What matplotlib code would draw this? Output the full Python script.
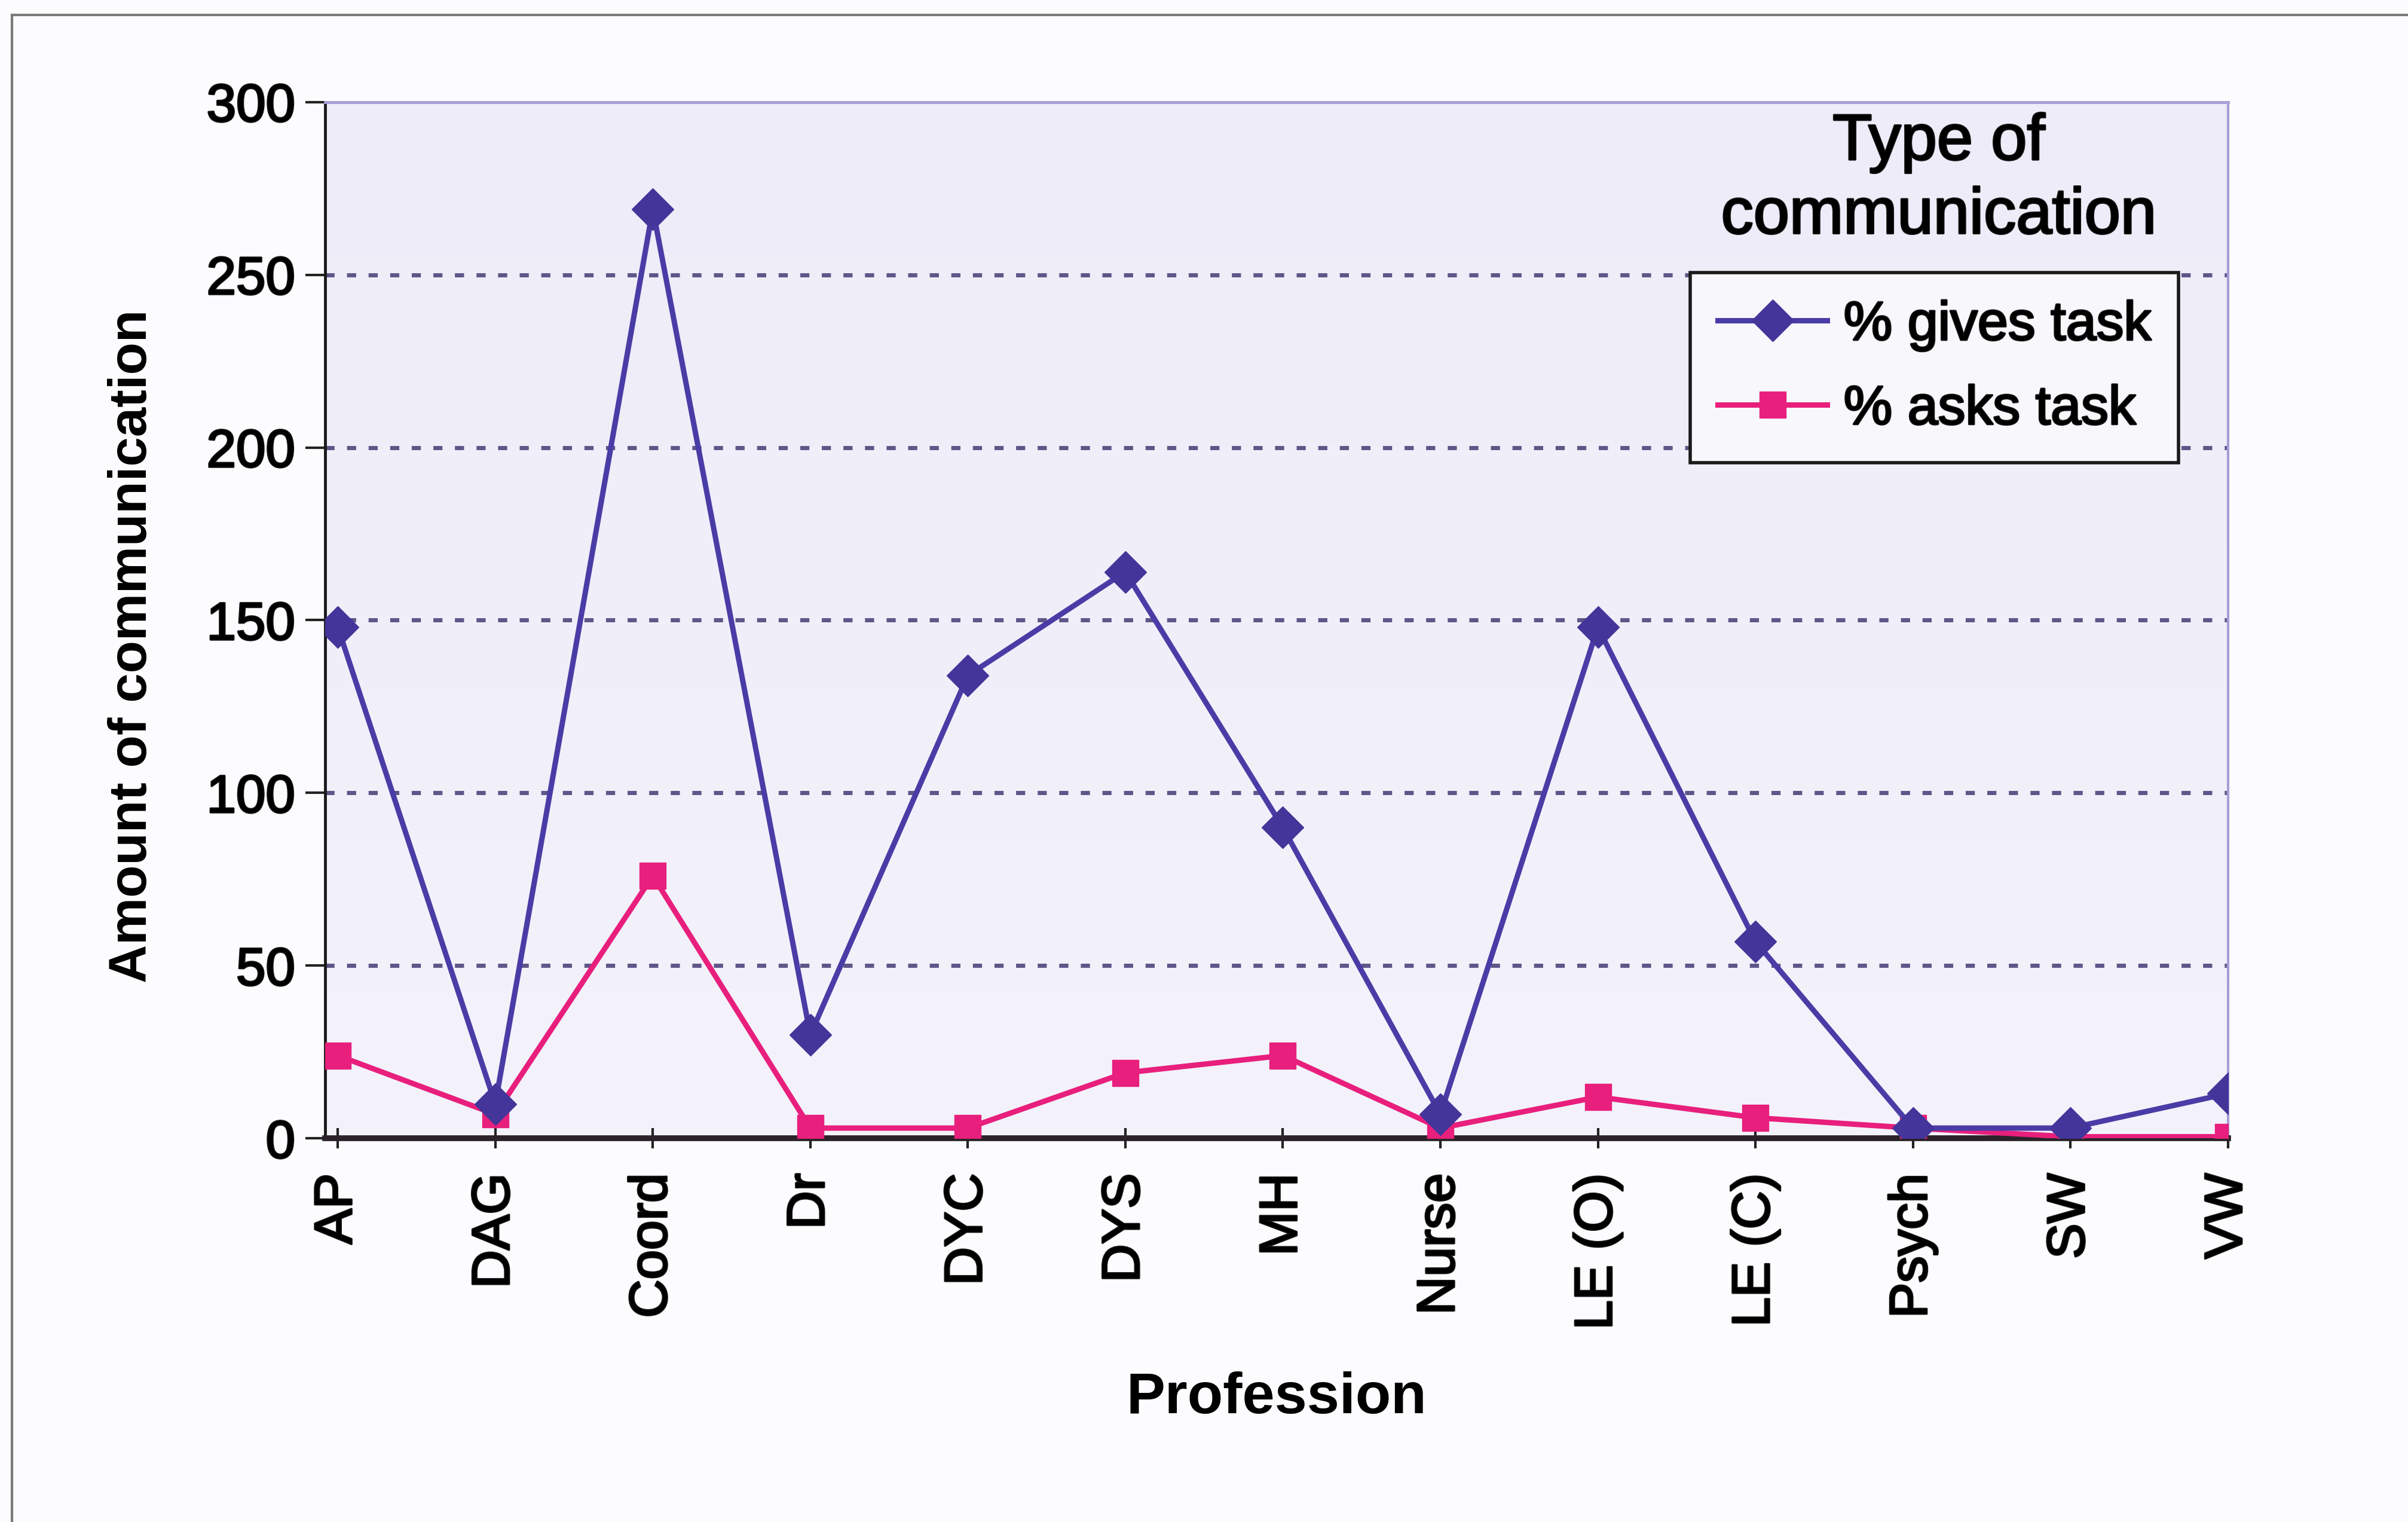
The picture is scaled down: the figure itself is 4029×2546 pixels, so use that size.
import numpy as np
import matplotlib.pyplot as plt
import matplotlib.patheffects as pe
from matplotlib.lines import Line2D
from matplotlib.colors import LinearSegmentedColormap

professions = ['AP', 'DAG', 'Coord', 'Dr', 'DYC', 'DYS', 'MH', 'Nurse',
               'LE (O)', 'LE (C)', 'Psych', 'SW', 'VW']
gives_task = [148, 10, 269, 30, 134, 164, 90, 7, 148, 57, 3, 3, 13]
asks_task = [24, 7, 76, 3, 3, 19, 24, 3, 12, 6, 3, 0.5, 0.5]
y_ticks = [0, 50, 100, 150, 200, 250, 300]

plt.rcParams['font.family'] = ['Liberation Sans', 'DejaVu Sans']
heavy = [pe.withStroke(linewidth=2.5, foreground='#151515')]

fig = plt.figure(figsize=(40.30, 25.46), dpi=100, facecolor='#FCFCFE')
ax = fig.add_axes([0.135, 0.252, 0.79, 0.681])

# soft lavender fill behind the plot area
bg = LinearSegmentedColormap.from_list('bg', ['#F4F3FB', '#EDECF8'])
ax.imshow(np.linspace(0, 1, 256).reshape(-1, 1), cmap=bg, aspect='auto',
          extent=[-0.08, 12.0, 0, 300], origin='lower', zorder=0)

x = np.arange(len(professions))
ax.plot(x, gives_task, color='#4A3CA6', linewidth=6.5, marker='D',
        markersize=36, markerfacecolor='#43359A', markeredgecolor='#43359A',
        label='% gives task', zorder=4)
ax.plot(x, asks_task, color='#E81F7C', linewidth=6.5, marker='s',
        markersize=32, markerfacecolor='#E81F7C', markeredgecolor='#E81F7C',
        label='% asks task', zorder=3)

ax.set_xlim(-0.08, 12.0)
ax.set_ylim(0, 300)
ax.set_yticks(y_ticks)
ax.set_xticks(x)
ax.set_xticklabels(professions, rotation=90, va='top', ha='center')
ax.tick_params(axis='both', labelsize=64, length=24, width=3, color='#222222')
ax.tick_params(axis='x', direction='inout', pad=30)
ax.tick_params(axis='y', direction='out', pad=12)
for lbl in ax.get_xticklabels() + ax.get_yticklabels():
    lbl.set_path_effects(heavy)

for y in y_ticks[1:-1]:
    ax.axhline(y, color='#5F5688', linewidth=5, linestyle=(0, (2.2, 3.0)), zorder=1)

ax.spines['left'].set_color('#1A1A1A')
ax.spines['left'].set_linewidth(3.5)
ax.spines['bottom'].set_color('#2A2228')
ax.spines['bottom'].set_linewidth(7)
ax.spines['top'].set_color('#A59FD6')
ax.spines['top'].set_linewidth(3.5)
ax.spines['right'].set_color('#A59FD6')
ax.spines['right'].set_linewidth(3)

ax.set_ylabel('Amount of communication', fontsize=64, fontweight='bold')
ax.yaxis.set_label_coords(-0.088, 0.475)
ax.set_xlabel('Profession', fontsize=70, fontweight='bold', labelpad=50)

leg = ax.legend(loc='upper left', bbox_to_anchor=(0.703, 0.862), fontsize=66,
                frameon=True, fancybox=False, edgecolor='#1A1A1A',
                facecolor='#F8F8FC', framealpha=1, handlelength=2.0,
                handletextpad=0.3, borderpad=0.5, labelspacing=0.6)
leg.get_frame().set_linewidth(4)
for t in leg.get_texts():
    t.set_path_effects(heavy)

ax.text(0.848, 0.925, 'Type of\ncommunication', transform=ax.transAxes,
        fontsize=78, ha='center', va='center', linespacing=1.3,
        path_effects=heavy)

# outer frame of the chart object
fig.add_artist(Line2D([0.005, 1.0], [0.99, 0.99], transform=fig.transFigure,
                      color='#7A7A7A', linewidth=3))
fig.add_artist(Line2D([0.005, 0.005], [0.0, 0.99], transform=fig.transFigure,
                      color='#7A7A7A', linewidth=3))

fig.savefig('out.png', dpi=100, facecolor=fig.get_facecolor())
